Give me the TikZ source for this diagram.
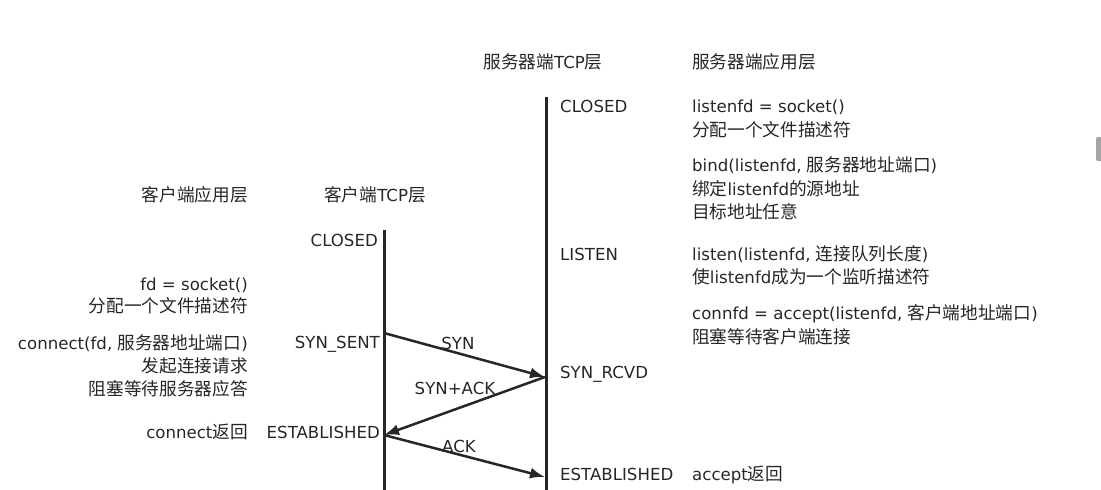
\documentclass[tikz,border=0pt]{standalone}
\usepackage{fontspec}
\setmainfont{DejaVu Sans}
\newfontfamily\cjk[Scale=1.065]{Noto Sans CJK SC}
\newcommand\zh[1]{{\cjk #1}}
\usetikzlibrary{arrows.meta}
\definecolor{ink}{HTML}{262626}
\tikzset{
  txt/.style={inner sep=0pt, text=ink, font=\fontsize{16.6}{23}\selectfont},
  lt/.style={txt, anchor=base west},
  rt/.style={txt, anchor=base east},
  ct/.style={txt, anchor=base},
  lifeline/.style={draw=ink, line width=3pt},
  msg/.style={draw=ink, line width=2.5pt, -{Latex[length=15pt,width=11pt]}},
}
\begin{document}
\begin{tikzpicture}[x=1pt,y=-1pt]
\useasboundingbox (0,0) rectangle (1101,490);
% headers
\node[ct] (hstcp) at (543,68) {\zh{服务器端}TCP\zh{层}};
\node[lt] (hsapp) at (692,68) {\zh{服务器端应用层}};
\node[rt] (hcapp) at (248,201) {\zh{客户端应用层}};
\node[ct] (hctcp) at (375,201) {\zh{客户端}TCP\zh{层}};
% lifelines
\coordinate (stop) at (546,97);
\coordinate (sbot) at (546,490);
\coordinate (ctop) at (384,230);
\coordinate (cbot) at (384,490);
\draw[lifeline] (stop) -- (sbot);
\draw[lifeline] (ctop) -- (cbot);
% server states
\node[lt] (sclosed) at (560,112) {CLOSED};
\node[lt] (slisten) at (560,260) {LISTEN};
\node[lt] (srcvd) at (560,378) {SYN\_RCVD};
\node[lt] (sest) at (560,480) {ESTABLISHED};
% server app
\node[lt] (a1) at (692,112) {listenfd = socket()};
\node[lt] (a2) at (692,136) {\zh{分配一个文件描述符}};
\node[lt] (a3) at (692,171) {bind(listenfd, \zh{服务器地址端口})};
\node[lt] (a4) at (692,195) {\zh{绑定}listenfd\zh{的源地址}};
\node[lt] (a5) at (692,218) {\zh{目标地址任意}};
\node[lt] (a6) at (692,260) {listen(listenfd, \zh{连接队列长度})};
\node[lt] (a7) at (692,283) {\zh{使}listenfd\zh{成为一个监听描述符}};
\node[lt] (a8) at (692,319) {connfd = accept(listenfd, \zh{客户端地址端口})};
\node[lt] (a9) at (692,343) {\zh{阻塞等待客户端连接}};
\node[lt] (a10) at (692,480) {accept\zh{返回}};
% client states
\node[rt] (cclosed) at (378,246) {CLOSED};
\node[rt] (csent) at (380,348) {SYN\_SENT};
\node[rt] (cest) at (380,438) {ESTABLISHED};
% client app
\node[rt] (b1) at (248,290) {fd = socket()};
\node[rt] (b2) at (248,312) {\zh{分配一个文件描述符}};
\node[rt] (b3) at (248,349) {connect(fd, \zh{服务器地址端口})};
\node[rt] (b4) at (248,372) {\zh{发起连接请求}};
\node[rt] (b5) at (248,395) {\zh{阻塞等待服务器应答}};
\node[rt] (b6) at (248,438) {connect\zh{返回}};
% messages
\coordinate (c1) at (384,333);
\coordinate (s1) at (545,377);
\coordinate (c2) at (384,435);
\coordinate (s2) at (545,477);
\draw[msg] (c1) -- (s1);
\draw[msg] (s1) -- (c2);
\draw[msg] (c2) -- (s2);
\node[ct] (lsyn) at (458,349) {SYN};
\node[ct] (lsynack) at (455,394) {SYN+ACK};
\node[ct] (lack) at (459,452) {ACK};
% scrollbar fragment at right edge
\fill[gray!70, rounded corners=2pt] (1096,137) rectangle (1103,161);
\end{tikzpicture}
\end{document}
